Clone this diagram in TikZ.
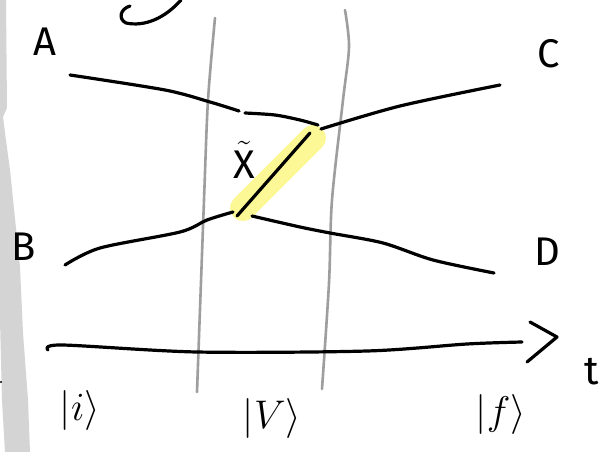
\RequirePackage{fix-cm}
\documentclass[tikz,border=0pt]{standalone}
\usepackage{fontspec}
\setsansfont{Fira Sans}
\begin{document}
\begin{tikzpicture}[x=1pt,y=-1pt,line cap=round,line join=round,
  ink/.style={draw=black,line width=3.2pt},
  rail/.style={draw=black!38,line width=2.6pt},
  glow/.style={draw={rgb,255:red,252;green,248;blue,150},line width=26pt},
  lbl/.style={inner sep=0pt,font=\sffamily\fontsize{40}{40}\selectfont},
  ket/.style={inner sep=0pt,font=\fontsize{40}{40}\selectfont}]
\useasboundingbox (0,0) rectangle (606,452);
\fill[white] (0,0) rectangle (606,452);
% left grey band
\fill[black!17] (0,0) -- (6,0) -- (7,108) -- (3,117) -- (5,133) -- (10,170)
  -- (20,267) -- (23,333) -- (28,400) -- (30,452) -- (5,452) -- (2,400) -- (0,320) -- cycle;
\fill (1,382) circle (1.2pt);
% top scribble
\draw[ink] (181,0) .. controls (165,18) and (145,27) .. (126,23)
  .. controls (118,19) and (120,9) .. (130,6);
% highlight
\coordinate (h1) at (243,208);
\coordinate (h2) at (313,138);
\draw[glow] (h1) -- (h2);
% vertical rails
\coordinate (r1a) at (215,18); \coordinate (r1b) at (208,100);
\coordinate (r1c) at (204,200); \coordinate (r1d) at (197,392);
\draw[rail] plot[smooth] coordinates {(r1a) (r1b) (r1c) (r1d)};
\coordinate (r2a) at (345,10); \coordinate (r2b) at (349,47);
\coordinate (r2c) at (343,100); \coordinate (r2d) at (332,200);
\coordinate (r2e) at (329,283); \coordinate (r2f) at (322,389);
\draw[rail] plot[smooth] coordinates {(r2a) (r2b) (r2c) (r2d) (r2e) (r2f)};
% labels
\node[lbl] (A) at (45,42) {A};
\node[lbl] (C) at (549,54) {C};
\node[lbl] (B) at (24,247) {B};
\node[lbl] (D) at (547,252) {D};
\node[lbl] (t) at (592,372) {t};
\node[ket] (ki) at (80,410) {$|i\rangle$};
\node[ket] (kv) at (272,418) {$|V\rangle$};
\node[ket] (kf) at (501,414) {$|f\rangle$};
\node[lbl] (X) at (244,160) {$\tilde{\mathsf{X}}$};
% A line
\coordinate (a1) at (70,75); \coordinate (a2) at (165,90);
\coordinate (a3) at (210,102); \coordinate (a4) at (239,111);
\draw[ink] plot[smooth] coordinates {(a1) (a2) (a3) (a4)};
\coordinate (a5) at (245,113); \coordinate (a6) at (275,115);
\coordinate (a7) at (300,120); \coordinate (a8) at (318,125);
\draw[ink] plot[smooth] coordinates {(a5) (a6) (a7) (a8)};
% C line
\coordinate (c1) at (321,129); \coordinate (c2) at (400,106);
\coordinate (c3) at (500,85);
\draw[ink] plot[smooth] coordinates {(c1) (c2) (c3)};
% B line
\coordinate (b1) at (65,265); \coordinate (b2) at (100,248);
\coordinate (b3) at (180,232); \coordinate (b4) at (207,220);
\coordinate (b5) at (233,212);
\draw[ink] plot[smooth] coordinates {(b1) (b2) (b3) (b4) (b5)};
% D line
\coordinate (d1) at (252,216); \coordinate (d2) at (300,227);
\coordinate (d3) at (330,233); \coordinate (d4) at (383,243);
\coordinate (d5) at (433,260); \coordinate (d6) at (494,273);
\draw[ink] plot[smooth] coordinates {(d1) (d2) (d3) (d4) (d5) (d6)};
% diagonal propagator
\coordinate (x1) at (237,216); \coordinate (x2) at (310,133);
\draw[ink] (x1) -- (x2);
% time axis
\coordinate (t1) at (48,350); \coordinate (t2) at (62,345);
\coordinate (t3) at (197,352); \coordinate (t4) at (367,351);
\coordinate (t5) at (467,344); \coordinate (t6) at (522,342);
\draw[ink] plot[smooth] coordinates {(t1) (t2) (t3) (t4) (t5) (t6)};
\coordinate (p1) at (530,322); \coordinate (p2) at (557,337);
\coordinate (p3) at (527,362);
\draw[ink] (p1) -- (p2) -- (p3);
\end{tikzpicture}
\end{document}
